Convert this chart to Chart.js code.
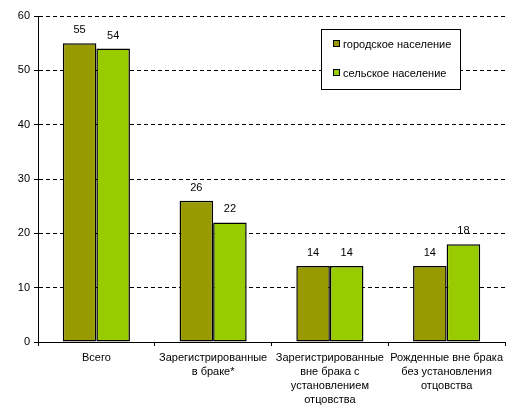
<!DOCTYPE html>
<html>
<head>
<meta charset="utf-8">
<script src="https://cdn.jsdelivr.net/npm/chart.js@4/dist/chart.umd.min.js"></script>
<style>
  html, body { margin: 0; padding: 0; background: #fff; }
  #wrap { width: 520px; height: 419px; position: relative; }
</style>
</head>
<body>
<div id="wrap"><canvas id="c"></canvas></div>
<script>
// ── Данные ──
const categories = [
  ['Всего'],
  ['Зарегистрированные', 'в браке*'],
  ['Зарегистрированные', 'вне брака с', 'установлением', 'отцовства'],
  ['Рожденные вне брака', 'без установления', 'отцовства'],
];
const seriesNames = ['городское население', 'сельское население'];
const urban = [55, 26, 14, 14];
const rural = [54, 22, 14, 18];
const yTicks = [0, 10, 20, 30, 40, 50, 60];

const COLORS = ['#999900', '#99cc00'];
const FONT = { family: 'Liberation Sans, Arial, sans-serif', size: 11 };

// подписи значений над столбцами
const valueLabels = {
  id: 'valueLabels',
  afterDatasetsDraw(chart) {
    const ctx = chart.ctx;
    ctx.save();
    ctx.font = '11px ' + FONT.family;
    ctx.fillStyle = '#000';
    ctx.textAlign = 'center';
    ctx.textBaseline = 'middle';
    chart.data.datasets.forEach((ds, i) => {
      chart.getDatasetMeta(i).data.forEach((bar, j) => {
        ctx.fillText(String(ds.data[j]), bar.x, bar.y - 13);
      });
    });
    ctx.restore();
  }
};

// легенда в рамке, как в оригинале
const boxLegend = {
  id: 'boxLegend',
  afterDraw(chart) {
    const ctx = chart.ctx;
    ctx.save();
    ctx.fillStyle = '#fff';
    ctx.fillRect(321, 29, 140, 61);
    ctx.strokeStyle = '#000';
    ctx.lineWidth = 1;
    ctx.strokeRect(321.5, 29.5, 139, 60);
    ctx.font = '11px ' + FONT.family;
    ctx.textBaseline = 'middle';
    chart.data.datasets.forEach((ds, i) => {
      const y = 44 + i * 29;
      ctx.fillStyle = ds.backgroundColor;
      ctx.fillRect(333, y - 3, 6, 6);
      ctx.strokeStyle = '#000';
      ctx.strokeRect(333.5, y - 3.5, 6, 6);
      ctx.fillStyle = '#000';
      ctx.fillText(ds.label, 343, y + 1);
    });
    ctx.restore();
  }
};

new Chart(document.getElementById('c').getContext('2d'), {
  type: 'bar',
  data: {
    labels: categories,
    datasets: [
      { label: seriesNames[0], data: urban, backgroundColor: COLORS[0] },
      { label: seriesNames[1], data: rural, backgroundColor: COLORS[1] },
    ].map(d => ({ ...d, borderColor: '#000', borderWidth: 1.5, borderSkipped: false,
                  categoryPercentage: 0.575, barPercentage: 1 })),
  },
  options: {
    responsive: true,
    maintainAspectRatio: false,
    animation: false,
    layout: { padding: { top: 16, right: 15, left: 0, bottom: 0 } },
    plugins: { legend: { display: false }, tooltip: { enabled: false } },
    scales: {
      x: {
        afterFit: s => { s.height = 77; },
        border: { color: '#000', width: 1 },
        grid: { offset: true, drawOnChartArea: false, color: '#000', tickLength: 4 },
        ticks: {
          color: '#000', font: { ...FONT, lineHeight: 14 / 11 },
          maxRotation: 0, autoSkip: false, padding: 5,
        },
      },
      y: {
        min: 0, max: 60,
        afterFit: s => { s.width = 38; },
        afterBuildTicks: s => { s.ticks = yTicks.map(v => ({ value: v })); },
        border: { color: '#000', width: 1, dash: [4, 3] },
        grid: { color: '#000', tickBorderDash: [], tickLength: 4 },
        ticks: { color: '#000', font: FONT, padding: 4 },
      },
    },
  },
  plugins: [valueLabels, boxLegend],
});
</script>
</body>
</html>
